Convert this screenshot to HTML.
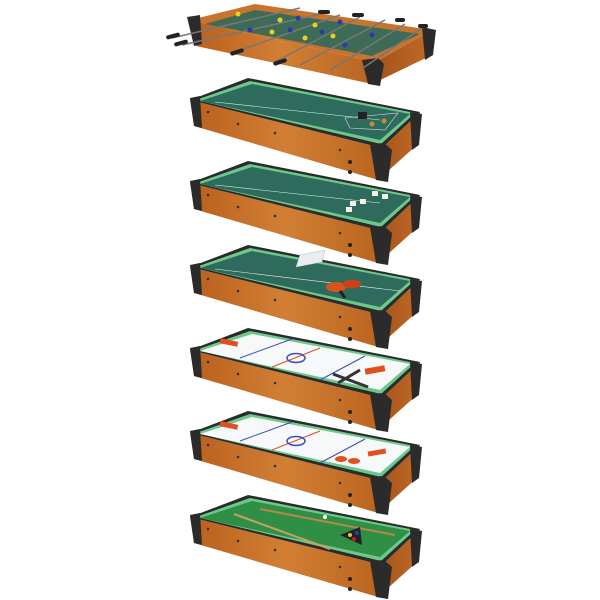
<!DOCTYPE html>
<html><head><style>html,body{margin:0;padding:0;background:#fff;width:600px;height:600px;overflow:hidden}</style></head>
<body>
<svg width="600" height="600" viewBox="0 0 600 600" xmlns="http://www.w3.org/2000/svg">
<defs>
<linearGradient id="wood" x1="0" y1="0" x2="1" y2="0">
<stop offset="0" stop-color="#b85f1c"/><stop offset="0.5" stop-color="#d27f35"/><stop offset="1" stop-color="#b8641f"/>
</linearGradient>
<linearGradient id="wood2" x1="0" y1="0" x2="1" y2="0">
<stop offset="0" stop-color="#a4521a"/><stop offset="1" stop-color="#c06a26"/>
</linearGradient>
<g id="base">
<!-- front side -->
<polygon points="190,100 382,148 378,180 194,126" fill="url(#wood)"/>
<!-- right side -->
<polygon points="382,148 420,112 418,144 378,180" fill="url(#wood2)"/>
<!-- rim -->
<polygon points="248,78 420,112 382,148 190,100" fill="#2b2b2b"/>
<polygon points="250,81 415,113 381,144 196,100" fill="#6cc98a"/>
<!-- corners -->
<polygon points="190,98 200,96 202,128 194,126" fill="#2b2b2b"/>
<polygon points="370,144 384,143 392,150 388,182 376,180" fill="#2b2b2b"/>
<polygon points="410,112 422,114 419,145 412,150" fill="#2b2b2b"/>
<circle cx="208" cy="112" r="1.3" fill="#333"/><circle cx="238" cy="124" r="1.3" fill="#333"/><circle cx="275" cy="133" r="1.3" fill="#333"/><circle cx="340" cy="150" r="1.3" fill="#333"/><circle cx="350" cy="162" r="2" fill="#222"/><circle cx="350" cy="172" r="2" fill="#222"/>
</g>
</defs>

<!-- Foosball -->
<polygon points="190,20 375,62 372,84 196,46" fill="url(#wood)"/>
<polygon points="375,62 432,30 430,56 372,84" fill="url(#wood2)"/>
<polygon points="255,4 432,30 375,62 190,20" fill="#c7742f"/>
<polygon points="255,10 420,34 372,56 205,24" fill="#3d6b58"/>
<polygon points="187,17 200,15 202,44 194,46" fill="#2b2b2b"/>
<polygon points="362,60 378,58 384,64 380,86 368,84" fill="#2b2b2b"/>
<polygon points="422,27 436,30 433,55 425,60" fill="#2b2b2b"/>
<g stroke="#777" stroke-width="1.5">
<line x1="172" y1="38" x2="300" y2="8"/><line x1="182" y1="45" x2="330" y2="12"/>
<line x1="235" y1="52" x2="340" y2="15"/><line x1="275" y1="62" x2="360" y2="17"/>
<line x1="300" y1="65" x2="385" y2="20"/><line x1="330" y1="70" x2="405" y2="24"/>
<line x1="360" y1="70" x2="425" y2="26"/>
</g>
<g fill="#222">
<rect x="166" y="34" width="14" height="4" rx="2" transform="rotate(-15 173 36)"/>
<rect x="174" y="41" width="14" height="4" rx="2" transform="rotate(-15 181 43)"/>
<rect x="230" y="50" width="14" height="4" rx="2" transform="rotate(-18 237 52)"/>
<rect x="273" y="60" width="14" height="4" rx="2" transform="rotate(-18 280 62)"/>
<rect x="318" y="10" width="12" height="4" rx="2"/><rect x="352" y="13" width="12" height="4" rx="2"/>
<rect x="395" y="18" width="10" height="4" rx="2"/><rect x="418" y="24" width="10" height="4" rx="2"/>
</g>
<g fill="#e8d21e"><circle cx="238" cy="14" r="2.5"/><circle cx="272" cy="32" r="2.5"/><circle cx="280" cy="20" r="2.5"/><circle cx="305" cy="38" r="2.5"/><circle cx="315" cy="25" r="2.5"/><circle cx="333" cy="36" r="2.5"/></g>
<g fill="#2b3aa8"><circle cx="250" cy="30" r="2.5"/><circle cx="290" cy="30" r="2.5"/><circle cx="298" cy="18" r="2.5"/><circle cx="322" cy="32" r="2.5"/><circle cx="340" cy="22" r="2.5"/><circle cx="372" cy="35" r="2.5"/><circle cx="345" cy="45" r="2.5"/></g>

<!-- Table 2: craps -->
<use href="#base"/>
<polygon points="252,84 410,114 380,140 200,101" fill="#2f6b5d"/>
<line x1="215" y1="102" x2="380" y2="120" stroke="#cfe" stroke-width="0.6"/>
<polygon points="345,118 398,113 385,130 350,128" fill="none" stroke="#ddd" stroke-width="0.6"/>
<rect x="358" y="112" width="9" height="7" fill="#222"/>
<circle cx="372" cy="124" r="2.5" fill="#d08830"/><circle cx="384" cy="121" r="2.5" fill="#d08830"/>

<!-- Table 3: cards -->
<g transform="translate(0,83)">
<use href="#base"/>
<polygon points="252,84 410,114 380,140 200,101" fill="#2f6b5d"/>
<line x1="215" y1="102" x2="380" y2="120" stroke="#cfe" stroke-width="0.6"/>
<g fill="#f4f0e6"><rect x="350" y="118" width="6" height="5"/><rect x="360" y="116" width="6" height="5"/><rect x="372" y="108" width="6" height="5"/><rect x="382" y="111" width="6" height="5"/><rect x="346" y="124" width="6" height="5"/></g>
</g>

<!-- Table 4: ping pong -->
<g transform="translate(0,167)">
<use href="#base"/>
<polygon points="252,84 410,114 380,140 200,101" fill="#2f6b5d"/>
<line x1="215" y1="102" x2="400" y2="124" stroke="#eee" stroke-width="0.6"/>
<polygon points="300,88 325,83 322,95 296,100" fill="#e8eef0" stroke="#bbb" stroke-width="0.5"/>
<ellipse cx="336" cy="120" rx="10" ry="5" fill="#d8531f"/><ellipse cx="352" cy="117" rx="9" ry="4.5" fill="#c8431a"/>
<line x1="340" y1="124" x2="345" y2="131" stroke="#222" stroke-width="3"/>
</g>

<!-- Table 5: air hockey -->
<g transform="translate(0,250)">
<use href="#base"/>
<polygon points="252,84 410,114 380,140 200,101" fill="#f6f8fa"/>
<line x1="240" y1="108" x2="292" y2="89" stroke="#3a4fb0" stroke-width="1"/>
<line x1="320" y1="130" x2="365" y2="106" stroke="#3a4fb0" stroke-width="1"/>
<line x1="272" y1="117" x2="320" y2="98" stroke="#e05020" stroke-width="1"/>
<ellipse cx="296" cy="108" rx="9" ry="4.5" fill="none" stroke="#3a4fb0" stroke-width="1.5"/>
<rect x="220" y="90" width="18" height="5" fill="#e24f1f" transform="rotate(12 229 92)"/>
<rect x="365" y="117" width="20" height="6" fill="#e24f1f" transform="rotate(-10 375 120)"/>
<line x1="333" y1="124" x2="368" y2="137" stroke="#333" stroke-width="3"/><line x1="338" y1="133" x2="360" y2="120" stroke="#333" stroke-width="3"/>
</g>

<!-- Table 6: air hockey -->
<g transform="translate(0,333)">
<use href="#base"/>
<polygon points="252,84 410,114 380,140 200,101" fill="#f6f8fa"/>
<line x1="240" y1="108" x2="292" y2="89" stroke="#3a4fb0" stroke-width="1"/>
<line x1="320" y1="130" x2="365" y2="106" stroke="#3a4fb0" stroke-width="1"/>
<line x1="272" y1="117" x2="320" y2="98" stroke="#e05020" stroke-width="1"/>
<ellipse cx="296" cy="108" rx="9" ry="4.5" fill="none" stroke="#3a4fb0" stroke-width="1.5"/>
<rect x="220" y="90" width="18" height="5" fill="#e24f1f" transform="rotate(12 229 92)"/>
<rect x="368" y="117" width="18" height="5" fill="#e24f1f" transform="rotate(-10 377 120)"/>
<ellipse cx="341" cy="126" rx="6" ry="3" fill="#e2501c"/><ellipse cx="354" cy="128" rx="6" ry="3" fill="#e2501c"/>
</g>

<!-- Table 7: pool -->
<g transform="translate(0,417)">
<use href="#base"/>
<polygon points="252,84 410,114 380,140 200,101" fill="#2f8f45"/>
<line x1="234" y1="97" x2="330" y2="132" stroke="#c8a060" stroke-width="2"/>
<line x1="260" y1="92" x2="395" y2="118" stroke="#b88848" stroke-width="2"/>
<polygon points="340,118 360,110 362,128" fill="#222"/>
<g fill="#e8c020"><circle cx="350" cy="118" r="2"/><circle cx="354" cy="122" r="2" fill="#c02020"/><circle cx="357" cy="116" r="2" fill="#2040c0"/></g>
<circle cx="325" cy="100" r="2" fill="#fff"/>
</g>
</svg>
</body></html>
